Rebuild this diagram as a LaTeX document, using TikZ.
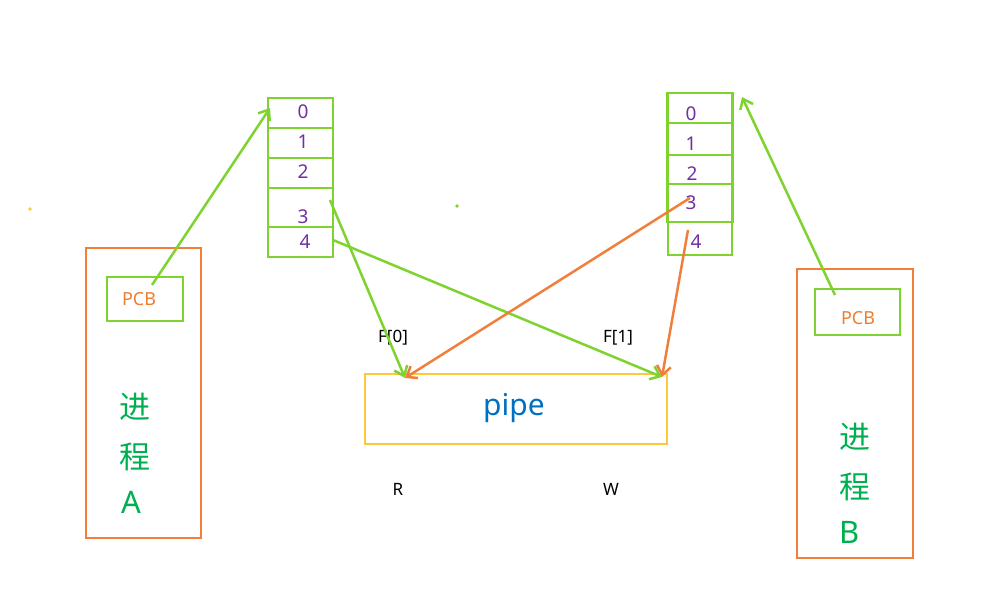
\documentclass[tikz,border=0pt]{standalone}
\usepackage{fontspec}
\setmainfont{Noto Sans}
\newfontfamily\cjk{Noto Sans CJK SC}
\usetikzlibrary{arrows.meta}
\definecolor{lgreen}{HTML}{7ED32F}
\definecolor{orng}{HTML}{F07F3C}
\definecolor{pyel}{HTML}{FFC83A}
\definecolor{tgreen}{HTML}{00B050}
\definecolor{purp}{HTML}{7030A0}
\definecolor{pblue}{HTML}{0070C0}
\definecolor{torng}{HTML}{ED7D31}
\tikzset{
  cell/.style={draw=lgreen,line width=2.6pt,minimum width=65pt,inner sep=0pt},
  num/.style={text=purp,font=\fontsize{19}{19}\selectfont,inner sep=0pt},
  procbox/.style={draw=orng,line width=2.4pt,inner sep=0pt},
  pcbbox/.style={draw=lgreen,line width=2.6pt,inner sep=0pt},
  pcbtxt/.style={text=torng,font=\fontsize{18}{18}\selectfont,inner sep=0pt},
  bigtxt/.style={text=tgreen,inner sep=0pt},
  lbl/.style={text=black,font=\fontsize{17}{17}\selectfont,inner sep=0pt},
  garrow/.style={draw=lgreen,line width=2.5pt,-{Straight Barb[length=9pt,width=14pt,line width=2.5pt]}},
  oarrow/.style={draw=orng,line width=2.5pt,-{Straight Barb[length=9pt,width=14pt,line width=2.5pt]}},
}
\begin{document}
\begin{tikzpicture}[x=1pt,y=-1pt]
\useasboundingbox (0,0) rectangle (1005,613);
% process boxes
\node[procbox,minimum width=115pt,minimum height=290pt] (procA) at (143.5,393) {};
\node[procbox,minimum width=116pt,minimum height=289pt] (procB) at (855,413.5) {};
\node[pcbbox,minimum width=76pt,minimum height=44pt] (pcbA) at (145,299) {};
\node[pcbbox,minimum width=85pt,minimum height=46pt] (pcbB) at (857.5,312) {};
\node[pcbtxt] (pcbAt) at (139,299) {PCB};
\node[pcbtxt] (pcbBt) at (858,318) {PCB};
\node[bigtxt,font=\cjk\fontsize{31}{31}\selectfont] (jA) at (135,407) {进};
\node[bigtxt,font=\cjk\fontsize{31}{31}\selectfont] (cA) at (135,457) {程};
\node[bigtxt,font=\fontsize{31}{31}\selectfont] (lA) at (131,502) {A};
\node[bigtxt,font=\cjk\fontsize{31}{31}\selectfont] (jB) at (855,437) {进};
\node[bigtxt,font=\cjk\fontsize{31}{31}\selectfont] (cB) at (855,487) {程};
\node[bigtxt,font=\fontsize{31}{31}\selectfont] (lB) at (850,532) {B};
% left table
\node[cell,minimum height=30pt] (a0) at (300.5,113) {};
\node[cell,minimum height=30pt] (a1) at (300.5,143) {};
\node[cell,minimum height=30pt] (a2) at (300.5,173) {};
\node[cell,minimum height=39pt] (a3) at (300.5,207.5) {};
\node[cell,minimum height=30pt] (a4) at (300.5,242) {};
\node[num] (na0) at (303,112) {0};
\node[num] (na1) at (303,142) {1};
\node[num] (na2) at (303,172) {2};
\node[num] (na3) at (303,217) {3};
\node[num] (na4) at (305,242) {4};
% right table
\node[cell,minimum height=30pt] (b0) at (700,108) {};
\node[cell,minimum height=32pt] (b1) at (700,139) {};
\node[cell,minimum height=29pt] (b2) at (700,169.5) {};
\node[cell,minimum height=38pt] (b3) at (700,203) {};
\node[cell,minimum height=33pt,minimum width=64pt] (b4) at (700,238.5) {};
\node[num] (nb0) at (691,114) {0};
\node[num] (nb1) at (691,144) {1};
\node[num] (nb2) at (692,174) {2};
\node[num] (nb3) at (691,203) {3};
\node[num] (nb4) at (696,242) {4};
% pipe
\node[draw=pyel,line width=2.4pt,minimum width=302pt,minimum height=70pt,inner sep=0pt] (pipe) at (516,409) {};
\node[text=pblue,font=\fontsize{30}{30}\selectfont,inner sep=0pt] (pipetxt) at (514,408) {pipe};
% labels
\node[lbl] (f0) at (393,338) {F[0]};
\node[lbl] (f1) at (618,338) {F[1]};
\node[lbl] (r) at (398,489) {R};
\node[lbl] (w) at (611,489) {W};
% stray dots
\fill[pyel] (30,209) circle (1.8pt);
\fill[lgreen] (457,206) circle (1.8pt);
% connector end points
\coordinate (pA) at (152,285);
\coordinate (tA) at (270,108);
\coordinate (s2) at (330,200);
\coordinate (s4) at (333,240);
\coordinate (pL) at (405,378);
\coordinate (pR) at (662,377);
\coordinate (s3b) at (690,198);
\coordinate (s4b) at (688,230);
\coordinate (pB) at (835,295);
\coordinate (tB) at (742,97);
\draw[garrow] (pA) -- (tA);
\draw[garrow] (s2) -- (pL);
\draw[garrow] (s4) -- (pR);
\draw[oarrow] (s3b) -- (pL);
\draw[oarrow] (s4b) -- (pR);
\draw[garrow] (pB) -- (tB);
\end{tikzpicture}
\end{document}
